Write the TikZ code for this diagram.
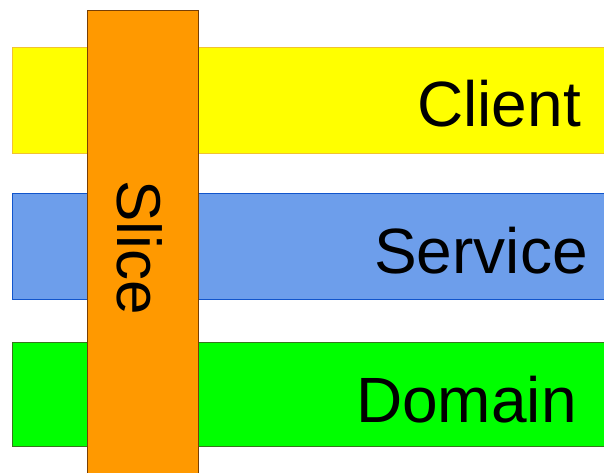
\documentclass[tikz,border=0pt]{standalone}
\usepackage{fontspec}
\setmainfont{Liberation Sans}
\definecolor{clientfill}{HTML}{FFFF00}
\definecolor{clientline}{HTML}{F1C232}
\definecolor{servicefill}{HTML}{6D9EEB}
\definecolor{serviceline}{HTML}{1155CC}
\definecolor{domainfill}{HTML}{00FF00}
\definecolor{domainline}{HTML}{38761D}
\definecolor{slicefill}{HTML}{FF9900}
\definecolor{sliceline}{HTML}{783F04}
\tikzset{
  band/.style={rectangle, draw, line width=1pt, inner sep=0pt,
    minimum width=594pt},
  layerlabel/.style={inner sep=0pt, anchor=base west,
    font=\fontsize{64}{70}\selectfont},
}
\begin{document}
\begin{tikzpicture}[x=1pt,y=1pt]
  \useasboundingbox (0,0) rectangle (604,472);
  \clip (0,0) rectangle (604,472);
  % horizontal layers
  \node[band, fill=clientfill, draw=clientline, minimum height=105pt]
    (client) at (309,371.5) {};
  \node[band, fill=servicefill, draw=serviceline, minimum height=106pt]
    (service) at (309,226) {};
  \node[band, fill=domainfill, draw=domainline, minimum height=104pt]
    (domain) at (309,78) {};
  \node[layerlabel] (clientlbl) at (417,345) {Client};
  \node[layerlabel] (servicelbl) at (374,199) {Service};
  \node[layerlabel] (domainlbl) at (356,50) {Domain};
  % vertical slice across all layers
  \node[rectangle, draw=sliceline, fill=slicefill, line width=1pt,
    inner sep=0pt, minimum width=111pt, minimum height=463pt]
    (slice) at (142.5,229.5) {};
  \node[inner sep=0pt, anchor=base west, rotate=-90,
    font=\fontsize{62}{68}\selectfont] (slicelbl) at (117,292) {Slice};
\end{tikzpicture}
\end{document}
